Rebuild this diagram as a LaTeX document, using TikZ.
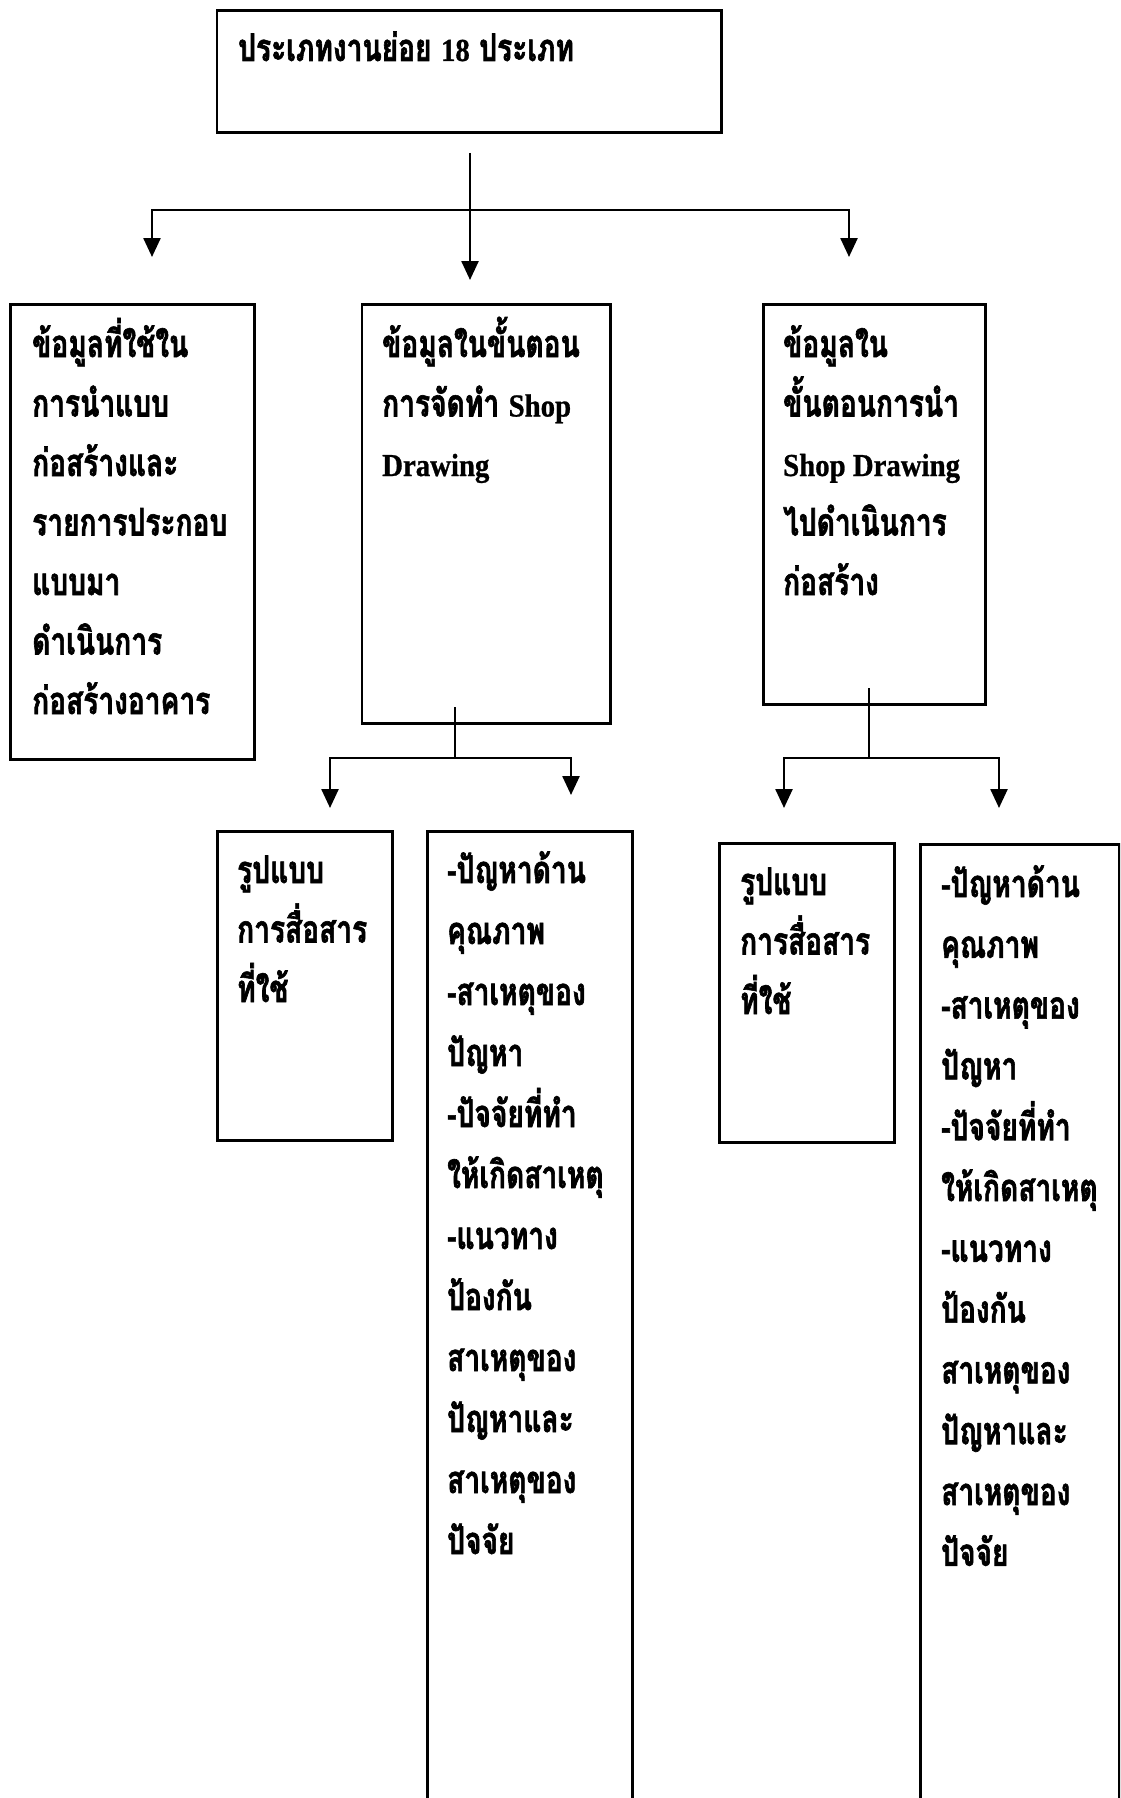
\documentclass[tikz,border=0pt]{standalone}
\usepackage{fontspec}
\usetikzlibrary{arrows.meta}
\newfontfamily\thaifont[Script=Thai,FakeStretch=0.74,FakeBold=1.6]{Loma}
\newfontfamily\latfont[FakeStretch=0.9,FakeBold=0.8]{Liberation Serif}
\newcommand\lat[1]{{\latfont\bfseries\fontsize{32}{32}\selectfont #1}}
\tikzset{
  box/.style={draw, line width=2.8pt, inner sep=0pt, anchor=north west},
  txt/.style={anchor=base west, inner sep=0pt, font=\thaifont\bfseries\fontsize{38}{38}\selectfont},
  conn/.style={line width=2.5pt},
  arr/.style={conn, -{Triangle[length=19pt,width=17pt]}},
}
\begin{document}
\begin{tikzpicture}[x=1pt,y=-1pt]
\useasboundingbox (0,0) rectangle (1120,1798);
\fill[white] (0,0) rectangle (1120,1798);
\clip (0,0) rectangle (1120,1798);
% boxes
\node[box, minimum width=504.5pt, minimum height=122pt] (top) at (215.5,9) {};
\node[box, minimum width=244pt, minimum height=455pt] (L1) at (9,303) {};
\node[box, minimum width=248.5pt, minimum height=419pt] (M1) at (360.5,303) {};
\node[box, minimum width=222pt, minimum height=400pt] (R1) at (762,303) {};
\node[box, minimum width=175pt, minimum height=309pt] (B1) at (216,830) {};
\node[box, minimum width=205pt, minimum height=1000pt] (B2) at (426,830) {};
\node[box, minimum width=175pt, minimum height=299pt] (B3) at (718,842) {};
\node[box, minimum width=199pt, minimum height=1000pt] (B4) at (919,843) {};
% texts
\node[txt] (topt) at (238,61) {ประเภทงานย่อย \lat{18} ประเภท};
\foreach \t [count=\i] in {ข้อมูลที่ใช้ใน, การนำแบบ, ก่อสร้างและ, รายการประกอบ, แบบมา, ดำเนินการ, ก่อสร้างอาคาร}
  \node[txt] (L1t\i) at (32,{357+59.5*(\i-1)}) {\t};
\foreach \t [count=\i] in {ข้อมูลในขั้นตอน, การจัดทำ \lat{Shop}, \lat{Drawing}}
  \node[txt] (M1t\i) at (382,{357+59.5*(\i-1)}) {\t};
\foreach \t [count=\i] in {ข้อมูลใน, ขั้นตอนการนำ, \lat{Shop Drawing}, ไปดำเนินการ, ก่อสร้าง}
  \node[txt] (R1t\i) at (783,{357+59.5*(\i-1)}) {\t};
\foreach \t [count=\i] in {รูปแบบ, การสื่อสาร, ที่ใช้}
  \node[txt] (B1t\i) at (237,{883+59.5*(\i-1)}) {\t};
\foreach \t [count=\i] in {รูปแบบ, การสื่อสาร, ที่ใช้}
  \node[txt] (B3t\i) at (740,{895+59.5*(\i-1)}) {\t};
\foreach \t [count=\i] in {-ปัญหาด้าน, คุณภาพ, -สาเหตุของ, ปัญหา, -ปัจจัยที่ทำ, ให้เกิดสาเหตุ, -แนวทาง, ป้องกัน, สาเหตุของ, ปัญหาและ, สาเหตุของ, ปัจจัย}
  \node[txt] (B2t\i) at (447,{883+61*(\i-1)}) {\t};
\foreach \t [count=\i] in {-ปัญหาด้าน, คุณภาพ, -สาเหตุของ, ปัญหา, -ปัจจัยที่ทำ, ให้เกิดสาเหตุ, -แนวทาง, ป้องกัน, สาเหตุของ, ปัญหาและ, สาเหตุของ, ปัจจัย}
  \node[txt] (B4t\i) at (941,{897+60.8*(\i-1)}) {\t};
% connectors
\coordinate (a0) at (470,153);
\coordinate (am) at (470,210);
\coordinate (a1) at (470,280);
\coordinate (t1) at (152,257);
\coordinate (t2) at (849,257);
\draw[arr] (a0) -- (a1);
\draw[arr] (am) -| (t1);
\draw[arr] (am) -| (t2);
\coordinate (b0) at (455,707);
\coordinate (bm) at (455,758);
\coordinate (bt1) at (330,808);
\coordinate (bt2) at (571,795);
\draw[conn] (b0) -- (bm);
\draw[arr] (bm) -| (bt1);
\draw[arr] (bm) -| (bt2);
\coordinate (c0) at (869,688);
\coordinate (cm) at (869,758);
\coordinate (ct1) at (784,808);
\coordinate (ct2) at (999,808);
\draw[conn] (c0) -- (cm);
\draw[arr] (cm) -| (ct1);
\draw[arr] (cm) -| (ct2);
\end{tikzpicture}
\end{document}
